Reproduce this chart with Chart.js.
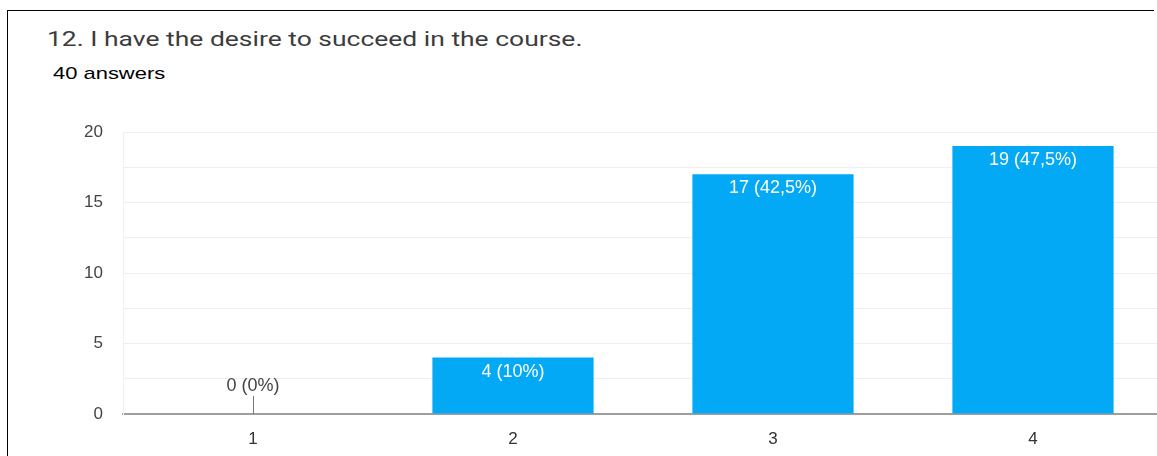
<!DOCTYPE html>
<html>
<head>
<meta charset="utf-8">
<script src="https://cdn.jsdelivr.net/npm/chart.js@4.4.0/dist/chart.umd.min.js"></script>
<style>
  html, body { margin: 0; padding: 0; background: #fff; overflow: hidden; width: 1157px; height: 456px; }
  #frame { position: absolute; left: 7px; top: 10px; width: 1146px; height: 460px; border-top: 1px solid #000; border-left: 1px solid #000; }
  #title { position: absolute; left: 47px; top: 27px; font-family: Roboto, sans-serif; font-size: 21px; line-height: 24px; color: #3c3c3c; white-space: nowrap; transform: scaleX(1.26); transform-origin: left top; }
  #sub { position: absolute; left: 53px; top: 64px; font-family: "Liberation Sans", Arial, sans-serif; font-size: 17px; line-height: 20px; color: #000; white-space: nowrap; transform: scaleX(1.29); transform-origin: left top; }
  #wrap { position: absolute; left: 0; top: 0; width: 1163px; height: 456px; }
</style>
</head>
<body>
<div id="frame"></div>
<div id="title">12. I have the desire to succeed in the course.</div>
<div id="sub">40 answers</div>
<div id="wrap"><canvas id="answers_chart" width="1163" height="456"></canvas></div>
<script>
// answers per option
const categories = ["1", "2", "3", "4"];
const counts = [0, 4, 17, 19];
const pct_labels = ["0 (0%)", "4 (10%)", "17 (42,5%)", "19 (47,5%)"];
const y_ticks = [0, 5, 10, 15, 20];

const barLabels = {
    id: "barLabels",
    afterDatasetsDraw(chart) {
        const ctx = chart.ctx;
        const meta = chart.getDatasetMeta(0);
        const yScale = chart.scales.y;
        ctx.save();
        ctx.font = "18px 'Liberation Sans', Arial, sans-serif";
        ctx.textAlign = "center";
        meta.data.forEach((bar, i) => {
            if (counts[i] > 0) {
                ctx.fillStyle = "#fff";
                ctx.textBaseline = "middle";
                ctx.fillText(pct_labels[i], bar.x, bar.y + 14);
            } else {
                // small leader line for empty bar
                const y0 = yScale.getPixelForValue(0);
                ctx.strokeStyle = "#777";
                ctx.lineWidth = 1;
                ctx.beginPath();
                ctx.moveTo(Math.round(bar.x) + 0.5, y0 - 18);
                ctx.lineTo(Math.round(bar.x) + 0.5, y0);
                ctx.stroke();
                ctx.fillStyle = "#444";
                ctx.textBaseline = "middle";
                ctx.fillText(pct_labels[i], bar.x, y0 - 28);
            }
        });
        ctx.restore();
    }
};

new Chart("answers_chart", {
    type: "bar",
    data: {
        labels: categories,
        datasets: [{
            data: counts,
            backgroundColor: "#03a9f4",
            categoryPercentage: 1,
            barPercentage: 0.62
        }]
    },
    options: {
        responsive: false,
        animation: false,
        layout: { padding: { top: 132, left: 0, right: 0, bottom: 0 } },
        plugins: { legend: { display: false }, tooltip: { enabled: false } },
        scales: {
            x: {
                grid: { display: false, drawTicks: false },
                border: { display: true, color: "#9e9e9e", width: 2 },
                ticks: { color: "#333", padding: 15, font: { family: "'Liberation Sans', Arial, sans-serif", size: 17 } },
                afterFit(scale) { scale.height = 42; }
            },
            y: {
                min: 0,
                max: 20,
                grid: { color: "#efefef", drawTicks: false },
                border: { display: true, color: "#efefef" },
                ticks: {
                    stepSize: 2.5,
                    padding: 20,
                    color: "#444",
                    font: { family: "'Liberation Sans', Arial, sans-serif", size: 17 },
                    callback: (v) => (y_ticks.includes(v) ? String(v) : "")
                },
                afterFit(scale) { scale.width = 123; }
            }
        }
    },
    plugins: [barLabels]
});
</script>
</body>
</html>
